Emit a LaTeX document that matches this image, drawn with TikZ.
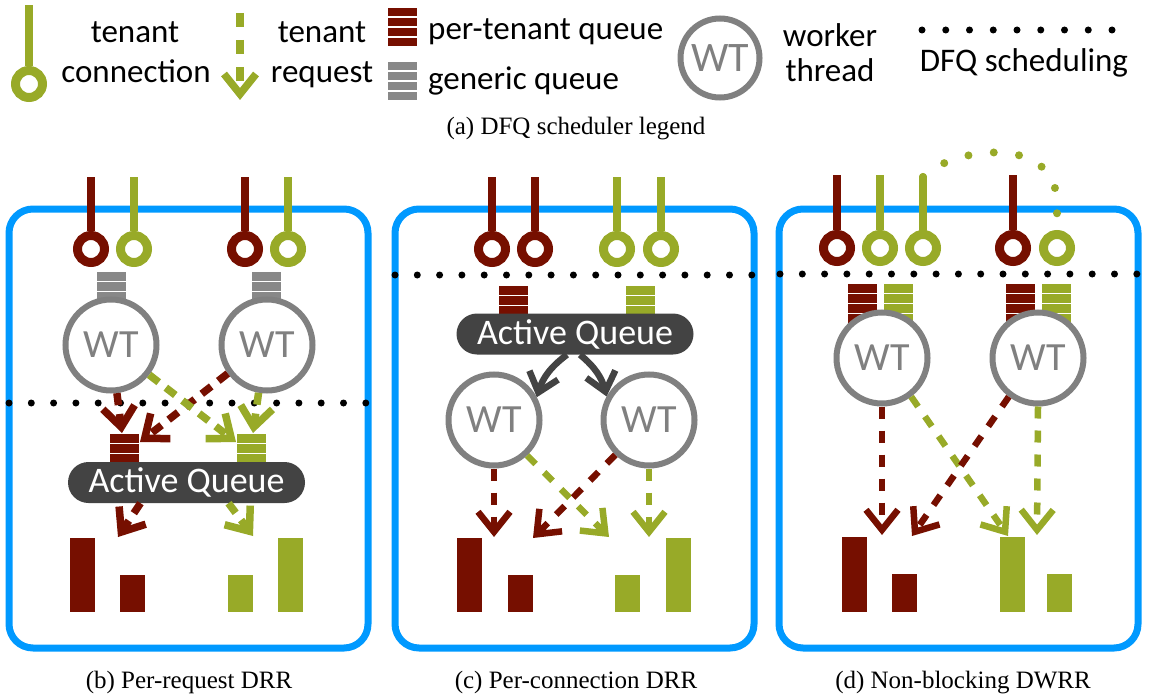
\documentclass[tikz,border=0pt]{standalone}
\usepackage{fontspec}
\setmainfont{Carlito}
\newfontfamily\capfont{Liberation Serif}
\usetikzlibrary{arrows.meta}
\definecolor{tred}{RGB}{118,15,0}
\definecolor{tgreen}{RGB}{152,170,40}
\definecolor{qgray}{RGB}{136,136,136}
\definecolor{wtgray}{RGB}{128,128,128}
\definecolor{aqgray}{RGB}{67,67,67}
\definecolor{pblue}{RGB}{0,153,255}

% a stack of four queue slots: centre x, top y, colour
\newcommand\qstack[3]{%
  \foreach \k in {0,1,2,3}{%
    \fill[#3] ({#1-14.5},{#2+10*\k}) rectangle ({#1+14.5},{#2+10*\k+8.5});}}

\tikzset{
  panel/.style={draw=pblue, line width=7pt, rounded corners=24pt},
  ring/.style={circle, draw=#1, line width=9pt, minimum size=27pt, inner sep=0pt},
  stem/.style={draw=#1, line width=8pt},
  wt/.style={circle, draw=wtgray, line width=6pt, fill=white, minimum size=91pt,
    inner sep=0pt, text=wtgray, font=\fontsize{40}{40}\selectfont},
  aq/.style={fill=aqgray, rounded corners=20.5pt, minimum width=237pt,
    minimum height=41pt, text=white, font=\fontsize{36}{36}\selectfont, inner sep=0pt},
  req/.style={draw=#1, line width=6.5pt, dash pattern=on 12pt off 12pt,
    -{Straight Barb[length=20pt,width=32pt]}},
  reqb/.style={req=#1, line width=7.5pt, dash pattern=on 12pt off 9pt},
  aqarr/.style={draw=aqgray, line width=6.5pt, -{Straight Barb[length=18pt,width=30pt]}},
  dfq/.style={line width=7pt, dash pattern=on 0pt off 22.3pt, line cap=round},
  gdots/.style={draw=tgreen, line width=8pt, dash pattern=on 0pt off 25.5pt, line cap=round},
  lg/.style={font=\fontsize{33}{36}\selectfont, inner sep=0pt},
  captext/.style={font=\capfont\fontsize{25}{28}\selectfont, inner sep=0pt},
}

\begin{document}
\begin{tikzpicture}[x=1pt, y=-1pt]
\useasboundingbox (0,0) rectangle (1150,695);

% ---------------- legend ----------------
\node[ring=tgreen] (lr) at (29,84) {};
\draw[stem=tgreen] (lr.north) -- (29,5);
\node[lg, anchor=base] (l1a) at (135,43) {tenant};
\node[lg, anchor=base] (l1b) at (136,83) {connection};

\coordinate (lqa) at (240,13);
\coordinate (lqb) at (240,100);
\draw[req=tgreen, line width=7.5pt, dash pattern=on 14pt off 13pt] (lqa) -- (lqb);
\node[lg, anchor=base] (l2a) at (322,43) {tenant};
\node[lg, anchor=base] (l2b) at (322,83) {request};

\qstack{402}{8}{tred}
\qstack{402}{62}{qgray}
\node[lg, anchor=base west] (l3a) at (428,40) {per-tenant queue};
\node[lg, anchor=base west] (l3b) at (428,90) {generic queue};

\node[wt, minimum size=79pt, font=\fontsize{42}{42}\selectfont] (lwt) at (720,58) {WT};
\node[lg, anchor=base] (l4a) at (830,47) {worker};
\node[lg, anchor=base] (l4b) at (830,82) {thread};

\draw[dfq, dash pattern=on 0pt off 23.75pt] (922,30) -- (1113,30);
\node[lg, anchor=base] (l5) at (1024,72) {DFQ scheduling};

\node[captext, anchor=base] (capa) at (576,135) {(a) DFQ scheduler legend};

% ---------------- (b) per-request DRR ----------------
\draw[panel] (9,209) rectangle (368,648);
\node[ring=tred]   (b1) at (91,249) {};
\node[ring=tgreen] (b2) at (134,249) {};
\node[ring=tred]   (b3) at (245,249) {};
\node[ring=tgreen] (b4) at (288,249) {};
\foreach \n/\c in {b1/tred,b2/tgreen,b3/tred,b4/tgreen}
  \draw[stem=\c] (\n.north) -- ++(0,-54);
\qstack{111}{272}{qgray}
\qstack{266}{272}{qgray}
\node[wt] (bw1) at (111,345) {WT};
\node[wt] (bw2) at (267,345) {WT};
\draw[dfq] (9,403) -- (367,403);

\qstack{124}{434}{tred}
\qstack{251}{434}{tgreen}
\coordinate (bt1) at (122,433);
\coordinate (bt2) at (140,442);
\coordinate (bt3) at (236,442);
\coordinate (bt4) at (253,433);
\draw[reqb=tred]   (bw1.-83)  -- (bt1);
\draw[reqb=tred]   (bw2.-144) -- (bt2);
\draw[reqb=tgreen] (bw1.-38)  -- (bt3);
\draw[reqb=tgreen] (bw2.-100) -- (bt4);

\node[aq] (baq) at (186.5,482.5) {Active Queue};
\coordinate (bt5) at (118,537);
\coordinate (bt6) at (253,536);
\draw[reqb=tred]   ([xshift=-46pt]baq.south) -- (bt5);
\draw[reqb=tgreen] ([xshift=42pt]baq.south)  -- (bt6);

\fill[tred]   (70,538) rectangle (95,612);
\fill[tred]   (120,575) rectangle (145,612);
\fill[tgreen] (228,575) rectangle (253,612);
\fill[tgreen] (278,538) rectangle (303,612);
\node[captext, anchor=base] (capb) at (189,688) {(b) Per-request DRR};

% ---------------- (c) per-connection DRR ----------------
\draw[panel] (395,209) rectangle (754,648);
\node[ring=tred]   (c1) at (492,249) {};
\node[ring=tred]   (c2) at (535,249) {};
\node[ring=tgreen] (c3) at (617,249) {};
\node[ring=tgreen] (c4) at (661,249) {};
\foreach \n/\c in {c1/tred,c2/tred,c3/tgreen,c4/tgreen}
  \draw[stem=\c] (\n.north) -- ++(0,-54);
\draw[dfq] (395,275) -- (753,275);
\qstack{513}{286}{tred}
\qstack{640}{286}{tgreen}
\node[aq] (caq) at (575,334) {Active Queue};
\node[wt] (cL) at (494,420) {WT};
\node[wt] (cR) at (649,420) {WT};
\draw[aqarr] ([xshift=-8pt]caq.south) to[bend right=18] (cL.28);
\draw[aqarr] ([xshift=5pt]caq.south)  to[bend left=18]  (cR.151);

\coordinate (ct1) at (494,537);
\coordinate (ct2) at (609,537);
\coordinate (ct3) at (533,538);
\coordinate (ct4) at (649,537);
\draw[req=tred]   (cL.south) -- (ct1);
\draw[req=tgreen] (cL.-47)   -- (ct2);
\draw[req=tred]   (cR.-134)  -- (ct3);
\draw[req=tgreen] (cR.south) -- (ct4);

\fill[tred]   (457,538) rectangle (482,612);
\fill[tred]   (508,575) rectangle (533,612);
\fill[tgreen] (615,575) rectangle (640,612);
\fill[tgreen] (666,538) rectangle (691,612);
\node[captext, anchor=base] (capc) at (576,688) {(c) Per-connection DRR};

% ---------------- (d) non-blocking DWRR ----------------
\draw[panel] (779,209) rectangle (1138,648);
\node[ring=tred]   (d1) at (837,248) {};
\node[ring=tgreen] (d2) at (880,248) {};
\node[ring=tgreen] (d3) at (923,248) {};
\node[ring=tred]   (d4) at (1013,248) {};
\node[ring=tgreen] (d5) at (1057,248) {};
\foreach \n/\c in {d1/tred,d2/tgreen,d4/tred}
  \draw[stem=\c] (\n.north) -- ++(0,-55);
\coordinate (d3top) at (923,177);
\draw[stem=tgreen, line cap=round] (d3.north) -- (d3top);
\draw[gdots] (d3top) .. controls (950,148) and (1062,130) .. (1057,210) -- (d5.north);

\draw[dfq] (780,274) -- (1137,274);
\qstack{862}{284}{tred}
\qstack{898}{284}{tgreen}
\qstack{1020}{284}{tred}
\qstack{1056}{284}{tgreen}
\node[wt] (dL) at (882,358) {WT};
\node[wt] (dR) at (1038,358) {WT};

\coordinate (dt1) at (882,535);
\coordinate (dt2) at (1008,536);
\coordinate (dt3) at (912,536);
\coordinate (dt4) at (1037,535);
\draw[req=tred]   (dL.south) -- (dt1);
\draw[req=tgreen] (dL.-53)   -- (dt2);
\draw[req=tred]   (dR.-127)  -- (dt3);
\draw[req=tgreen] (dR.south) -- (dt4);

\fill[tred]   (842,537) rectangle (867,612);
\fill[tred]   (892,574) rectangle (917,612);
\fill[tgreen] (1000,537) rectangle (1025,612);
\fill[tgreen] (1047,574) rectangle (1072,612);
\node[captext, anchor=base] (capd) at (963,688) {(d) Non-blocking DWRR};
\end{tikzpicture}
\end{document}
